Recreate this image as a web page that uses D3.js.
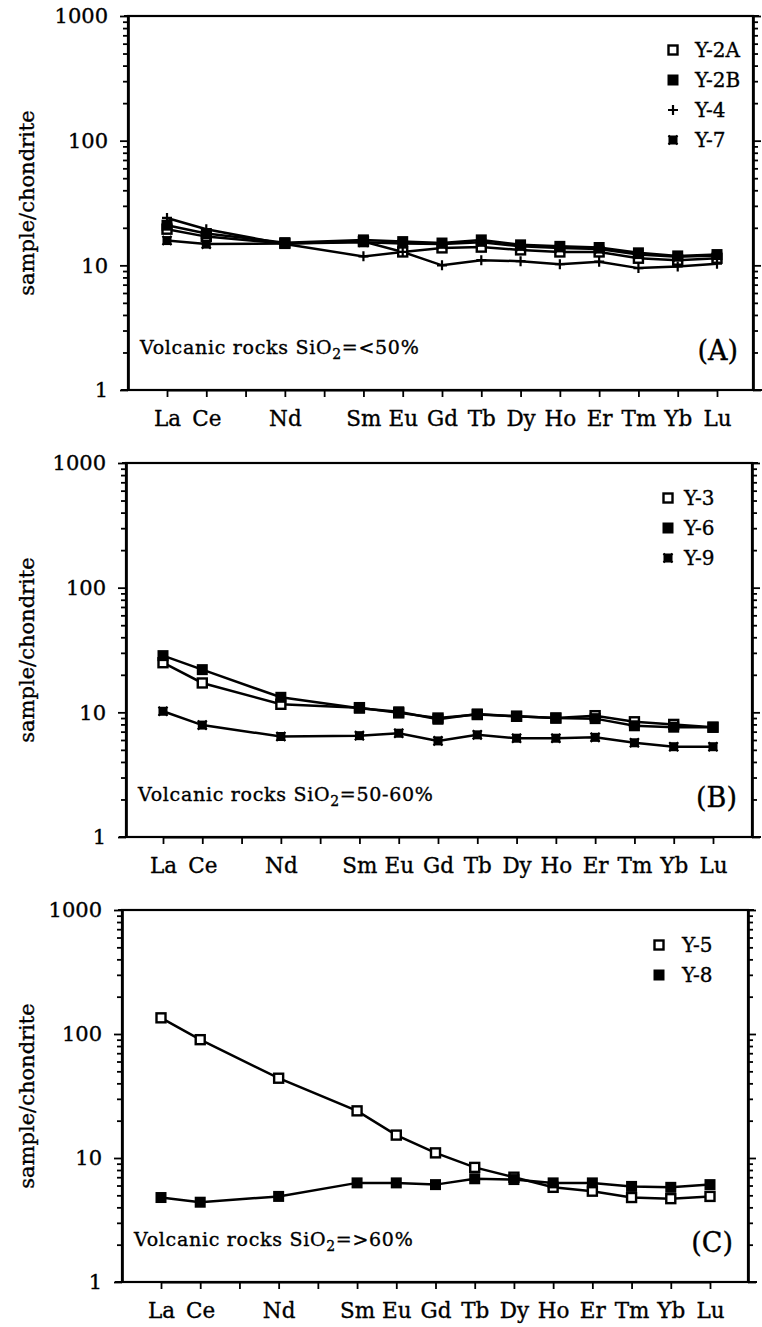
<!DOCTYPE html>
<html>
<head>
<meta charset="utf-8">
<script src="https://cdn.jsdelivr.net/npm/d3@7"></script>
<style>
  body { margin: 0; background: #fff; }
  svg { display: block; }
  text { font-family: "DejaVu Serif", "Liberation Serif", serif; fill: #000; stroke: #000; stroke-width: 0.35px; }
</style>
</head>
<body>
<div id="chart"></div>
<script>
"use strict";

// rare earth elements on the x axis (Pr and Pm get a tick but no label)
var elements = ["La","Ce","Pr","Nd","Pm","Sm","Eu","Gd","Tb","Dy","Ho","Er","Tm","Yb","Lu"];
var measured = ["La","Ce","Nd","Sm","Eu","Gd","Tb","Dy","Ho","Er","Tm","Yb","Lu"];
var yTickLabels = [1, 10, 100, 1000];

// (A) SiO2 < 50%
var sampleY2A = [19.5, 17, 15, 15.5, 12.8, 13.8, 14, 13.3, 12.8, 12.8, 11.4, 11, 11.4];
var sampleY2B = [21, 18, 15.2, 16, 15.5, 15.1, 16, 14.6, 14.2, 13.9, 12.6, 11.9, 12.2];
var sampleY4  = [24, 19.5, 14.8, 11.8, 12.8, 10, 11, 10.8, 10.2, 10.7, 9.5, 9.8, 10.3];
var sampleY7  = [15.8, 14.8, 15, 15.3, 15, 14.8, 15.3, 14.2, 13.8, 13.5, 12.2, 11.7, 12];

// (B) SiO2 50-60%
var sampleY3 = [25, 17.2, 11.6, 10.9, 9.9, 9.0, 9.6, 9.3, 9.0, 9.4, 8.4, 8.0, 7.6];
var sampleY6 = [28.5, 22, 13.2, 10.8, 10.1, 8.8, 9.7, 9.3, 9.0, 8.9, 7.8, 7.6, 7.6];
var sampleY9 = [10.2, 7.9, 6.4, 6.5, 6.8, 5.9, 6.6, 6.2, 6.2, 6.3, 5.7, 5.3, 5.3];

// (C) SiO2 > 60%
var sampleY5 = [135, 90, 44, 24, 15.3, 11.0, 8.4, 7.0, 5.8, 5.4, 4.8, 4.7, 4.9];
var sampleY8 = [4.8, 4.4, 4.9, 6.3, 6.3, 6.1, 6.8, 6.7, 6.3, 6.3, 5.9, 5.8, 6.1];

var panels = [
  {
    tag: "(A)", sio2: "=<50%",
    box: {left: 128, right: 753, top: 16, bottom: 390, first: 167, last: 717},
    legend: {x: 673, text: 695, y: 50},
    series: [
      {name: "Y-2A", marker: "open",   values: sampleY2A},
      {name: "Y-2B", marker: "filled", values: sampleY2B},
      {name: "Y-4",  marker: "plus",   values: sampleY4},
      {name: "Y-7",  marker: "star",   values: sampleY7}
    ]
  },
  {
    tag: "(B)", sio2: "=50-60%",
    box: {left: 126, right: 752, top: 463, bottom: 837, first: 163, last: 713},
    legend: {x: 668, text: 684, y: 498},
    series: [
      {name: "Y-3", marker: "open",   values: sampleY3},
      {name: "Y-6", marker: "filled", values: sampleY6},
      {name: "Y-9", marker: "star",   values: sampleY9}
    ]
  },
  {
    tag: "(C)", sio2: "=>60%",
    box: {left: 122, right: 748, top: 910, bottom: 1282, first: 161, last: 710},
    legend: {x: 659, text: 682, y: 945},
    series: [
      {name: "Y-5", marker: "open",   values: sampleY5},
      {name: "Y-8", marker: "filled", values: sampleY8}
    ]
  }
];

var width = 762, height = 1327;
var svg = d3.select("#chart").append("svg")
  .attr("width", width)
  .attr("height", height);

svg.append("rect").attr("width", width).attr("height", height).attr("fill", "#fff");

var minorTicks = [];
[1, 10, 100].forEach(function(d) {
  for (var k = 2; k <= 9; k++) minorTicks.push(d * k);
});

function drawMarker(g, type, cx, cy) {
  if (type === "open") {
    g.append("rect")
      .attr("x", cx - 4.5).attr("y", cy - 4.5)
      .attr("width", 9).attr("height", 9)
      .attr("fill", "#fff").attr("stroke", "#000").attr("stroke-width", 2.4);
  } else if (type === "filled") {
    g.append("rect")
      .attr("x", cx - 5.5).attr("y", cy - 5.5)
      .attr("width", 11).attr("height", 11)
      .attr("fill", "#000");
  } else if (type === "plus") {
    g.append("path")
      .attr("d", "M" + (cx - 5) + "," + cy + "H" + (cx + 5) + "M" + cx + "," + (cy - 5) + "V" + (cy + 5))
      .attr("stroke", "#000").attr("stroke-width", 2.2);
  } else {
    g.append("rect")
      .attr("x", cx - 4.5).attr("y", cy - 4.5)
      .attr("width", 9).attr("height", 9)
      .attr("fill", "#000");
    g.append("path")
      .attr("d", d3.symbol(d3.symbolX, 55)())
      .attr("transform", "translate(" + cx + "," + cy + ")")
      .attr("stroke", "#000").attr("stroke-width", 2.2).attr("fill", "none");
  }
}

panels.forEach(function(p) {
  var b = p.box;
  var g = svg.append("g");

  var x = d3.scalePoint().domain(elements).range([b.first, b.last]);
  var y = d3.scaleLog().domain([1, 1000]).range([b.bottom, b.top]);

  // frame
  g.append("rect")
    .attr("x", b.left).attr("y", b.top)
    .attr("width", b.right - b.left).attr("height", b.bottom - b.top)
    .attr("fill", "none").attr("stroke", "#000").attr("stroke-width", 2.2);
  g.append("line")
    .attr("x1", b.left - 7).attr("x2", b.right + 9)
    .attr("y1", b.bottom).attr("y2", b.bottom)
    .attr("stroke", "#000").attr("stroke-width", 2.2);
  g.append("line")
    .attr("x1", b.left - 4).attr("x2", b.right + 6)
    .attr("y1", b.top).attr("y2", b.top)
    .attr("stroke", "#000").attr("stroke-width", 2.2);

  // left axis, major with labels and minor
  var leftMajor = g.append("g")
    .attr("transform", "translate(" + b.left + ",0)")
    .call(d3.axisLeft(y).tickValues(yTickLabels).tickFormat(d3.format("d"))
      .tickSize(8).tickSizeOuter(0).tickPadding(12));
  leftMajor.selectAll("text").style("font-size", "21px");

  g.append("g")
    .attr("transform", "translate(" + b.left + ",0)")
    .call(d3.axisLeft(y).tickValues(minorTicks).tickFormat("").tickSize(5).tickSizeOuter(0));

  // right axis ticks
  g.append("g")
    .attr("transform", "translate(" + b.right + ",0)")
    .call(d3.axisRight(y).tickValues(yTickLabels).tickFormat("").tickSize(8).tickSizeOuter(0));
  g.append("g")
    .attr("transform", "translate(" + b.right + ",0)")
    .call(d3.axisRight(y).tickValues(minorTicks).tickFormat("").tickSize(5).tickSizeOuter(0));

  // bottom axis
  var bottomAxis = g.append("g")
    .attr("transform", "translate(0," + b.bottom + ")")
    .call(d3.axisBottom(x).tickSize(7).tickSizeOuter(0).tickPadding(14)
      .tickFormat(function(d) { return measured.indexOf(d) >= 0 ? d : ""; }));
  bottomAxis.selectAll("text").style("font-size", "21.5px");

  g.selectAll(".domain").attr("stroke-width", 2.2);
  g.selectAll(".tick line").attr("stroke-width", 1.8);

  // y axis title
  g.append("text")
    .attr("transform", "translate(27," + ((b.top + b.bottom) / 2) + ") rotate(-90)")
    .attr("text-anchor", "middle")
    .attr("dominant-baseline", "central")
    .style("font-size", "21px")
    .text("sample/chondrite");

  // lines and markers
  var line = d3.line()
    .x(function(d) { return x(d.el); })
    .y(function(d) { return y(d.v); });

  p.series.forEach(function(s) {
    var pts = measured.map(function(el, i) { return {el: el, v: s.values[i]}; });
    g.append("path")
      .datum(pts)
      .attr("d", line)
      .attr("fill", "none")
      .attr("stroke", "#000")
      .attr("stroke-width", 2.5);
  });
  p.series.forEach(function(s) {
    var mg = g.append("g");
    measured.forEach(function(el, i) {
      drawMarker(mg, s.marker, x(el), y(s.values[i]));
    });
  });

  // legend
  p.series.forEach(function(s, i) {
    var ly = p.legend.y + i * 30;
    drawMarker(g, s.marker, p.legend.x, ly);
    g.append("text")
      .attr("x", p.legend.text).attr("y", ly)
      .attr("dominant-baseline", "central")
      .style("font-size", "20px")
      .text(s.name);
  });

  // annotation
  var note = g.append("text")
    .attr("x", b.left + 12).attr("y", b.bottom - 36)
    .style("font-size", "19px")
    .style("letter-spacing", "0.7px");
  note.append("tspan").text("Volcanic rocks SiO");
  note.append("tspan").attr("dy", 5).style("font-size", "14px").text("2");
  note.append("tspan").attr("dy", -5).text(p.sio2);

  g.append("text")
    .attr("x", b.right - 15).attr("y", b.bottom - 40)
    .attr("text-anchor", "end")
    .attr("dominant-baseline", "central")
    .style("font-size", "27px")
    .text(p.tag);
});
</script>
</body>
</html>
